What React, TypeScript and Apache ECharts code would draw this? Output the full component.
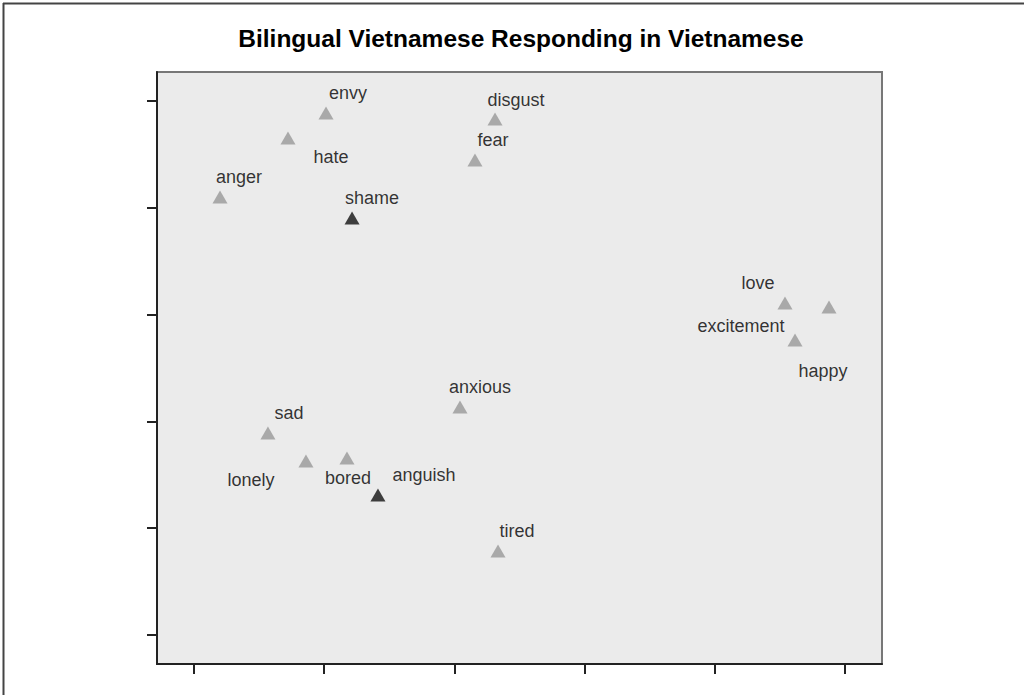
import React, { useEffect, useRef } from "react";
import * as echarts from "echarts";

const emotions = ["envy", "hate", "disgust", "fear", "anger", "shame", "love", "excitement", "happy", "anxious", "sad", "lonely", "bored", "anguish", "tired"];
const dimX = [1.014, 0.722, 2.312, 2.158, 0.2, 1.214, 4.539, 4.616, 4.877, 2.043, 0.568, 0.86, 1.175, 1.413, 2.335];
const dimY = [4.888, 4.654, 4.831, 4.448, 4.101, 3.904, 3.109, 2.762, 3.071, 2.135, 1.891, 1.629, 1.657, 1.311, 0.787];
const highlighted = ["shame", "anguish"];
const tickValues = [0, 1, 2, 3, 4, 5];

const labelOffsets: Record<string, [number, number]> = {
  envy: [22, -20],
  hate: [43, 19],
  disgust: [21, -19],
  fear: [18, -20],
  anger: [19, -20],
  shame: [20, -20],
  love: [-27, -20],
  excitement: [-54, -14],
  happy: [-6, 64],
  anxious: [20, -20],
  sad: [21, -20],
  lonely: [-55, 19],
  bored: [1, 20],
  anguish: [46, -20],
  tired: [19, -20],
};

export default function App() {
  const ref = useRef<HTMLDivElement>(null);
  useEffect(() => {
    if (!ref.current) return;
    const chart = echarts.init(ref.current, undefined, { renderer: "svg" });
    const data = emotions.map((name, i) => {
      const hi = highlighted.includes(name);
      return {
        name,
        value: [dimX[i], dimY[i]],
        itemStyle: { color: hi ? "#111111" : "#999999" },
        label: { offset: labelOffsets[name] },
      };
    });
    chart.setOption({
      animation: false,
      backgroundColor: "#ffffff",
      title: {
        text: "Bilingual Vietnamese Responding in Vietnamese",
        left: 516,
        top: 21,
        textAlign: "center",
        textStyle: { fontFamily: "Liberation Sans, Arial, sans-serif", fontSize: 24.5, fontWeight: "bold", color: "#000" },
      },
      graphic: [
        { type: "line", shape: { x1: 3, y1: 3.5, x2: 1024, y2: 3.5 }, style: { stroke: "#444", lineWidth: 2 } },
        { type: "line", shape: { x1: 3.5, y1: 3, x2: 3.5, y2: 695 }, style: { stroke: "#444", lineWidth: 2 } },
      ],
      grid: {
        left: 157,
        right: 142,
        top: 72,
        bottom: 31,
        show: true,
        backgroundColor: "#ebebeb",
        borderColor: "#777",
        borderWidth: 2,
      },
      xAxis: {
        type: "value",
        min: -0.284,
        max: 5.284,
        axisLine: { show: true, onZero: false, lineStyle: { color: "#222", width: 2 } },
        axisTick: { show: true, length: 10, customValues: tickValues, lineStyle: { color: "#222", width: 2 } },
        axisLabel: { show: false },
        splitLine: { show: false },
      },
      yAxis: {
        type: "value",
        min: -0.272,
        max: 5.272,
        axisLine: { show: true, onZero: false, lineStyle: { color: "#222", width: 2 } },
        axisTick: { show: true, length: 10, customValues: tickValues, lineStyle: { color: "#222", width: 2 } },
        axisLabel: { show: false },
        splitLine: { show: false },
      },
      series: [
        {
          type: "scatter",
          symbol: "triangle",
          symbolSize: [15, 13],
          data,
          label: {
            show: true,
            position: "inside",
            formatter: "{b}",
            color: "#000000",
            fontSize: 18,
            fontFamily: "Liberation Sans, Arial, sans-serif",
            align: "center",
            verticalAlign: "middle",
            textBorderWidth: 0,
          },
        },
      ],
    });
    return () => chart.dispose();
  }, []);
  return <div ref={ref} style={{ position: "fixed", left: 0, top: 0, width: 1024, height: 695 }} />;
}
